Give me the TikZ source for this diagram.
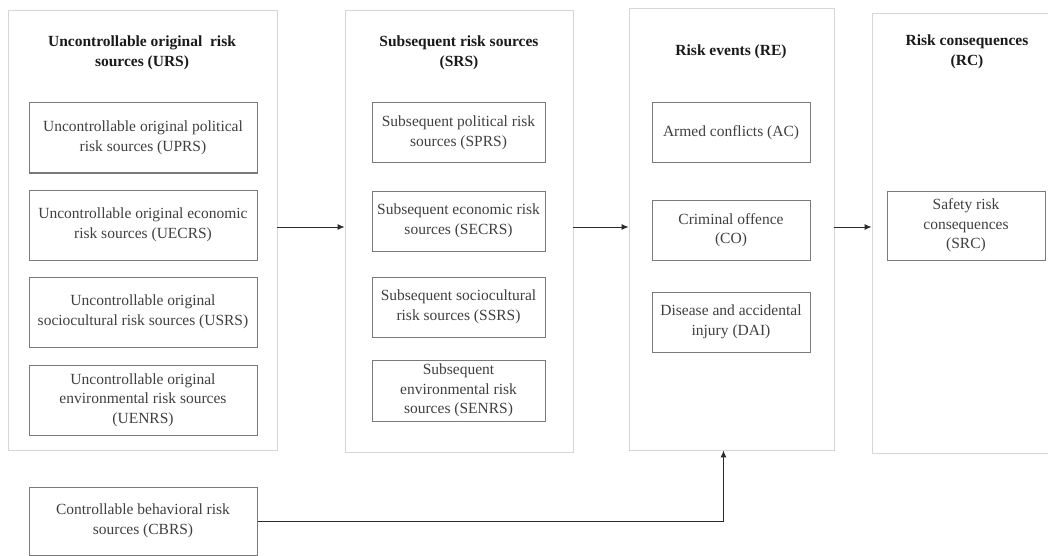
\documentclass[tikz,border=0pt]{standalone}
\usepackage{fontspec}
\setmainfont{Liberation Serif}
\usetikzlibrary{arrows.meta}
\definecolor{outerc}{HTML}{D6D6D6}
\definecolor{innerc}{HTML}{7A7A7A}
\definecolor{txtc}{HTML}{3F3F3F}
\definecolor{ttlc}{HTML}{1A1A1A}
\definecolor{arrc}{HTML}{2B2B2B}
\begin{document}
\begin{tikzpicture}[x=1pt,y=-1pt,
  outerbox/.style={draw=outerc, line width=0.9pt, inner sep=0pt},
  innerbox/.style={draw=innerc, line width=1pt, inner sep=0pt, align=center,
    text=txtc, font=\fontsize{15.5}{19.5}\selectfont},
  ttl/.style={inner sep=0pt, align=center, text=ttlc,
    font=\fontsize{15.5}{19.5}\selectfont\bfseries},
  arr/.style={draw=arrc, line width=1pt, -{Latex[length=7pt,width=6pt]}}]
\useasboundingbox (0,0) rectangle (1048,556);
\clip (0,0) rectangle (1048,556);
% outer boxes
\node[outerbox, minimum width=269pt, minimum height=440pt] (urs) at (142.5,230) {};
\node[outerbox, minimum width=228pt, minimum height=442pt] (srs) at (459,231) {};
\node[outerbox, minimum width=205pt, minimum height=442pt] (re) at (731.5,229) {};
\node[outerbox, minimum width=200pt, minimum height=440pt] (rc) at (972,233) {};
% titles
\node[ttl] (ursT) at (142,53) {Uncontrollable original\ \ risk\\sources (URS)};
\node[ttl] (srsT) at (459,53) {Subsequent risk sources\\(SRS)};
\node[ttl] (reT) at (731,52) {Risk events (RE)};
\node[ttl] (rcT) at (967,52) {Risk consequences\\(RC)};
% URS inner
\node[innerbox, minimum width=228pt, minimum height=70pt] (uprs) at (143,138) {Uncontrollable original political\\risk sources (UPRS)};
\node[innerbox, minimum width=228pt, minimum height=70pt] (uecrs) at (143,225) {Uncontrollable original economic\\risk sources (UECRS)};
\node[innerbox, minimum width=228pt, minimum height=70pt] (usrs) at (143,312) {Uncontrollable original\\sociocultural risk sources (USRS)};
\node[innerbox, minimum width=228pt, minimum height=70pt] (uenrs) at (143,400) {Uncontrollable original\\environmental risk sources\\(UENRS)};
\node[innerbox, minimum width=228pt, minimum height=68pt] (cbrs) at (143,521) {Controllable behavioral risk\\sources (CBRS)};
% SRS inner
\node[innerbox, minimum width=173pt, minimum height=60pt] (sprs) at (458.5,133) {Subsequent political risk\\sources (SPRS)};
\node[innerbox, minimum width=173pt, minimum height=60pt] (secrs) at (458.5,221) {Subsequent economic risk\\sources (SECRS)};
\node[innerbox, minimum width=173pt, minimum height=60pt] (ssrs) at (458.5,307) {Subsequent sociocultural\\risk sources (SSRS)};
\node[innerbox, minimum width=173pt, minimum height=61pt] (senrs) at (458.5,390.5) {Subsequent\\environmental risk\\sources (SENRS)};
% RE inner
\node[innerbox, minimum width=158pt, minimum height=60pt] (ac) at (731,133) {Armed conflicts (AC)};
\node[innerbox, minimum width=158pt, minimum height=60pt] (co) at (731,230) {Criminal offence\\(CO)};
\node[innerbox, minimum width=158pt, minimum height=60pt] (dai) at (731,322) {Disease and accidental\\injury (DAI)};
% RC inner
\node[innerbox, minimum width=158pt, minimum height=69pt] (src) at (966,225.5) {Safety risk\\consequences\\(SRC)};
% arrows
\coordinate (ay) at (0,227);
\draw[arr] (urs.east |- ay) -- (srs.west |- ay);
\draw[arr] (srs.east |- ay) -- (re.west |- ay);
\draw[arr] (re.east |- ay) -- (rc.west |- ay);
\draw[arr] (cbrs.east) -| ([xshift=-8pt]re.south);
\end{tikzpicture}
\end{document}
